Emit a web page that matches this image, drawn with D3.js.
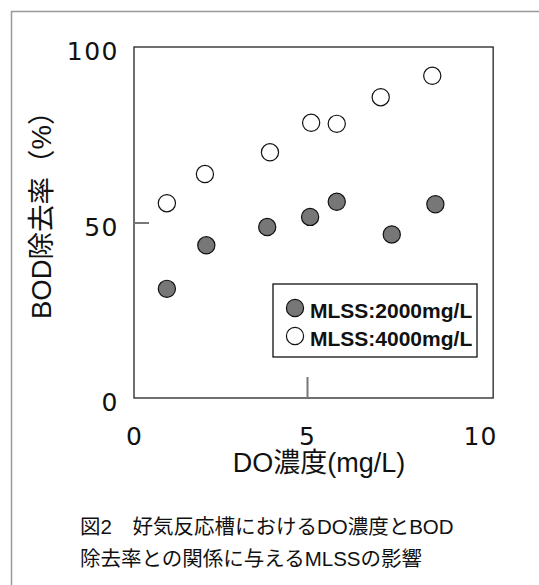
<!DOCTYPE html>
<html>
<head>
<meta charset="utf-8">
<script src="https://cdn.jsdelivr.net/npm/d3@7"></script>
<style>
  body { margin: 0; background: #fff; }
  svg { display: block; }
  .jp { font-family: "Liberation Sans", "Noto Sans CJK JP", sans-serif; }
</style>
</head>
<body>
<div id="chart"></div>
<script>
// DO concentration (mg/L) and BOD removal (%) for each MLSS level
var do2000 = [0.95, 2.09, 3.85, 5.09, 5.86, 7.45, 8.71];
var bod2000 = [31.1, 43.5, 48.7, 51.6, 55.9, 46.6, 55.2];
var do4000 = [0.95, 2.05, 3.93, 5.12, 5.86, 7.13, 8.62];
var bod4000 = [55.5, 63.8, 70.0, 78.4, 78.1, 85.7, 91.8];

var xTicks = [0, 5, 10];
var yTicks = [0, 50, 100];
var seriesNames = ["MLSS:2000mg/L", "MLSS:4000mg/L"];
var xTitle = "DO濃度(mg/L)";
var yTitle = "BOD除去率（%）";
var caption = ["図2\u3000好気反応槽におけるDO濃度とBOD", "除去率との関係に与えるMLSSの影響"];

var W = 539, H = 585;

var svg = d3.select("#chart").append("svg")
    .attr("width", W)
    .attr("height", H);

// outer frame (only top and left show)
svg.append("path")
    .attr("d", "M11.5," + H + "V11.5H" + W)
    .attr("fill", "none")
    .attr("stroke", "#999")
    .attr("stroke-width", 1.5);

var x = d3.scaleLinear().domain([0, 10]).range([134, 480]);
var y = d3.scaleLinear().domain([0, 100]).range([398, 47]);
var xEnd = 10.38; // plot frame goes a bit past 10

// plot frame
svg.append("rect")
    .attr("x", x(0))
    .attr("y", y(100))
    .attr("width", x(xEnd) - x(0))
    .attr("height", y(0) - y(100))
    .attr("fill", "none")
    .attr("stroke", "#222")
    .attr("stroke-width", 1.3);

// y axis, ticks point inward
var yAxis = svg.append("g")
    .attr("transform", "translate(" + x(0) + ",0)")
    .call(d3.axisLeft(y).tickValues(yTicks).tickSize(-15).tickPadding(15));
yAxis.select(".domain").remove();
yAxis.selectAll(".tick line")
    .attr("stroke", "#777")
    .attr("stroke-width", 2)
    .attr("display", function(d) { return d == 50 ? null : "none"; });
yAxis.selectAll(".tick text")
    .attr("dy", "0.5em")
    .attr("fill", "#111")
    .style("letter-spacing", "1.5px")
    .style("font-family", "'DejaVu Sans', sans-serif")
    .style("font-size", "25px");

// x axis
var xAxis = svg.append("g")
    .attr("transform", "translate(0," + y(0) + ")")
    .call(d3.axisBottom(x).tickValues(xTicks).tickSize(-21).tickPadding(29));
xAxis.select(".domain").remove();
xAxis.selectAll(".tick line")
    .attr("stroke", "#777")
    .attr("stroke-width", 2)
    .attr("display", function(d) { return d == 5 ? null : "none"; });
xAxis.selectAll(".tick text")
    .attr("fill", "#111")
    .style("letter-spacing", "1px")
    .style("font-family", "'DejaVu Sans', sans-serif")
    .style("font-size", "25px");

// axis titles
svg.append("text")
    .attr("class", "jp")
    .attr("x", 319)
    .attr("y", 472)
    .attr("text-anchor", "middle")
    .style("font-size", "27px")
    .attr("fill", "#111")
    .text(xTitle);

svg.append("text")
    .attr("class", "jp")
    .attr("transform", "translate(51,319) rotate(-90)")
    .attr("text-anchor", "start")
    .style("font-size", "27.5px")
    .attr("fill", "#111")
    .text(yTitle);

// points
var r = 8.6;
svg.append("g").selectAll("circle")
    .data(do2000)
    .enter()
    .append("circle")
      .attr("cx", function(d) { return x(d); })
      .attr("cy", function(d, i) { return y(bod2000[i]); })
      .attr("r", r)
      .attr("fill", "#777")
      .attr("stroke", "#111")
      .attr("stroke-width", 1.2);

svg.append("g").selectAll("circle")
    .data(do4000)
    .enter()
    .append("circle")
      .attr("cx", function(d) { return x(d); })
      .attr("cy", function(d, i) { return y(bod4000[i]); })
      .attr("r", r)
      .attr("fill", "#fff")
      .attr("stroke", "#111")
      .attr("stroke-width", 1.2);

// legend
var legend = svg.append("g").attr("transform", "translate(273,284)");
legend.append("rect")
    .attr("width", 204)
    .attr("height", 73)
    .attr("fill", "#fff")
    .attr("stroke", "#111")
    .attr("stroke-width", 1.3);
var fills = ["#777", "#fff"];
seriesNames.forEach(function(name, i) {
  legend.append("circle")
      .attr("cx", 22)
      .attr("cy", 24 + i * 28)
      .attr("r", r)
      .attr("fill", fills[i])
      .attr("stroke", "#111")
      .attr("stroke-width", 1.2);
  legend.append("text")
      .attr("x", 37)
      .attr("y", 34 + i * 28)
      .style("font-family", "'Liberation Sans', sans-serif")
      .style("font-weight", "bold")
      .style("font-size", "21px")
      .attr("fill", "#111")
      .text(name);
});

// caption
caption.forEach(function(line, i) {
  svg.append("text")
      .attr("class", "jp")
      .attr("x", 80)
      .attr("y", 534 + i * 32)
      .style("font-size", "20.5px")
      .attr("fill", "#111")
      .text(line);
});
</script>
</body>
</html>
